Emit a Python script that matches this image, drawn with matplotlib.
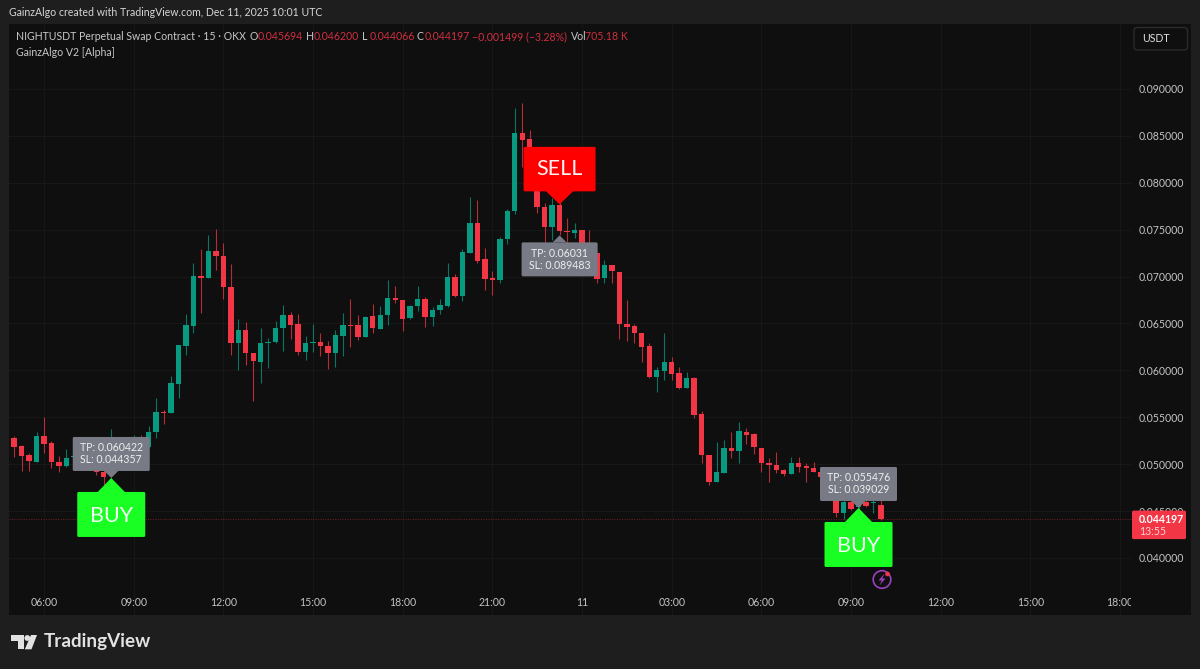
import numpy as np
import matplotlib
matplotlib.use("Agg")
import matplotlib.pyplot as plt
from matplotlib.patches import Polygon, FancyBboxPatch, Rectangle, Circle
from matplotlib.transforms import Affine2D

plt.rcParams['font.family'] = ['Lato', 'DejaVu Sans']

# Candle data in thousandths of USDT, one bar per 15 minutes, index 0 = 06:00
first_bar = -4
opens = [52.83,51.94,50.98,50.27,52.99,52.30,50.24,49.81,50.73,50.38,51.16,50.27,49.20,49.03,51.44,52.15,51.34,52.65,51.87,
         53.43,55.60,55.42,58.59,62.60,64.77,70.03,69.88,72.76,72.19,68.92,62.95,64.34,61.89,60.93,62.88,62.99,64.49,
         65.91,64.95,61.96,62.96,63.06,62.57,61.86,63.70,64.88,64.88,63.60,65.80,64.41,65.91,67.68,67.51,65.55,66.83,
         67.65,65.73,66.40,66.87,69.99,67.93,72.55,75.68,71.84,69.82,69.64,74.04,76.96,85.34,84.63,81.72,77.45,75.25,
         77.63,74.90,74.68,74.97,73.37,72.48,69.81,71.20,70.52,64.94,64.73,63.95,62.60,59.29,59.97,60.89,59.68,58.08,
         59.22,55.35,50.98,48.10,49.10,51.69,51.41,53.47,53.18,51.76,50.16,49.91,49.38,48.95,50.09,49.81,49.63,49.13,
         48.67,47.07,44.83,46.00,45.40,46.00,45.83,45.694]
highs = [52.99,52.05,51.16,53.40,55.07,52.51,50.87,51.59,51.16,51.51,51.87,50.62,49.56,53.72,52.58,52.76,53.11,53.11,54.11,
         57.02,55.78,59.40,62.67,66.01,71.41,72.97,74.43,75.04,73.54,71.34,65.44,65.16,61.89,64.55,63.42,65.30,66.97,
         66.26,66.01,63.67,64.91,64.02,63.17,64.31,66.08,67.61,65.91,65.80,67.08,66.90,69.64,69.00,67.51,66.97,69.00,
         67.79,66.80,67.65,71.48,70.28,72.98,78.45,78.17,73.01,70.63,74.26,77.17,88.01,88.47,85.63,82.25,77.81,78.34,
         77.99,76.21,75.75,74.97,74.97,72.48,71.76,71.20,70.52,67.50,64.94,63.95,62.95,60.39,63.95,61.39,60.39,59.83,
         59.33,55.63,50.98,52.40,52.58,53.47,54.53,53.82,53.29,51.76,50.62,51.33,49.45,50.80,50.73,50.09,50.20,49.38,
         48.85,47.25,46.36,46.36,46.54,46.36,46.36,46.20]
lows = [50.73,49.31,49.31,50.27,51.16,49.56,49.13,49.67,50.27,50.09,49.74,48.85,47.78,48.67,51.16,50.98,51.16,51.34,51.69,
        52.76,54.29,55.42,57.02,61.64,63.95,66.08,69.88,70.70,67.57,61.64,60.04,60.57,56.77,58.62,60.22,62.88,62.11,
        63.31,61.64,61.11,62.00,61.54,60.12,60.40,61.54,62.53,63.24,63.60,63.95,64.41,64.84,67.15,64.24,65.45,66.37,
        64.59,64.73,66.01,66.80,67.79,67.43,72.55,71.41,68.57,68.00,69.35,73.48,76.67,81.72,81.36,76.74,73.55,73.90,
        74.43,73.55,74.08,73.01,72.12,69.28,69.28,69.28,63.31,63.17,62.88,60.93,59.15,57.73,58.97,58.97,57.98,58.08,
        54.89,50.16,47.78,48.10,49.10,50.62,50.16,52.15,51.09,49.20,48.14,49.10,48.74,48.95,49.20,48.14,49.13,48.31,
        46.72,44.33,44.12,45.12,45.26,45.40,44.83,44.066]
closes = [51.87,50.91,50.34,52.99,52.19,50.20,49.81,50.70,50.87,51.16,50.09,49.20,48.67,51.51,52.05,51.34,52.58,51.80,53.47,
          55.53,55.49,58.69,62.67,64.84,70.06,69.85,72.76,72.19,68.92,62.95,64.34,61.89,61.00,62.88,62.99,64.55,65.91,
          64.88,61.96,62.96,63.06,62.57,61.86,63.78,64.84,64.77,63.56,65.73,64.49,65.91,67.68,67.54,65.48,66.87,67.61,
          65.73,66.44,66.94,69.92,67.93,72.59,75.68,71.70,69.74,69.64,74.04,77.00,85.34,84.56,81.72,77.38,75.32,77.63,
          74.86,74.79,74.97,73.37,72.48,69.74,71.23,70.56,64.94,64.66,63.95,62.53,59.26,60.00,60.89,59.61,58.08,59.19,
          55.28,50.98,48.10,49.13,51.69,51.41,53.54,53.11,51.80,50.16,49.88,49.34,48.92,50.09,49.74,49.59,49.13,48.67,
          47.07,44.83,46.00,45.26,46.18,45.54,45.93,44.197]

y_ticks = [0.040, 0.045, 0.050, 0.055, 0.060, 0.065, 0.070, 0.075, 0.080, 0.085, 0.090]
x_ticks = [0, 12, 24, 36, 48, 60, 72, 84, 96, 108, 120, 132, 144]
x_labels = ["06:00", "09:00", "12:00", "15:00", "18:00", "21:00", "11", "03:00", "06:00", "09:00", "12:00", "15:00", "18:00"]
last_price = 0.044197

BUY_BARS = [(9, 0.04853, "0.060422", "0.044357"), (109, 0.04533, "0.055476", "0.039029")]
SELL_BAR = (69, 0.07770, "0.06031", "0.089483")

UP, DOWN = "#089981", "#f23645"
FS = 7.6
W, H = 1200, 669
fig = plt.figure(figsize=(W / 100, H / 100), dpi=100, facecolor="#1e1e1e")
PX = Affine2D().scale(1, -1).translate(0, H)

L, R, T, B = 9, 1131, 24, 615
fig.add_artist(Rectangle((L, T), 1191 - L, B - T, transform=PX, fc="#0f0f0f", ec="none", zorder=-5))
ax = fig.add_axes([L / W, 1 - B / H, (R - L) / W, (B - T) / H])
ax.patch.set_alpha(0)
for s in ax.spines.values():
    s.set_visible(False)

x0, dx = 44.0, 89.67 / 12
ax.set_xlim((L - x0) / dx, (R - x0) / dx)
ax.set_ylim(0.03392, 0.09693)
ax.set_axisbelow(True)
ax.grid(True, color="#171717", lw=0.75)

o, h, l, c = [np.array(a) * 1e-3 for a in (opens, highs, lows, closes)]
idx = np.arange(len(o)) + first_bar
cols = [UP if cc >= oo else DOWN for oo, cc in zip(o, c)]
ax.vlines(idx, l, h, colors=cols, lw=0.8, alpha=0.75, zorder=2)
ax.bar(idx, np.maximum(np.abs(c - o), 2.5e-5), bottom=np.minimum(o, c), width=0.72, color=cols, lw=0, zorder=3)
ax.axhline(last_price, color=DOWN, lw=0.7, ls=(0, (1, 1.5)), alpha=0.45, zorder=1)

ax.set_xticks(x_ticks, x_labels)
ax.set_yticks(y_ticks, [f"{v:.6f}" for v in y_ticks])
ax.tick_params(axis="x", length=0, pad=-12.6, labelsize=FS, colors="#c3c3c3")
ax.tick_params(axis="y", length=0, pad=5.6, labelsize=FS, colors="#c3c3c3", labelleft=False, labelright=True, left=False)
for lab in ax.get_xticklabels():
    lab.set_clip_on(True)
    lab.set_clip_box(ax.bbox)


def pix(bar, price):
    xx, yy = ax.transData.transform((bar, price))
    return xx, H - yy


def add(p, z=6):
    p.set_transform(PX)
    p.set_clip_on(False)
    p.set_zorder(z)
    fig.add_artist(p)


def txt(x, y, s, **kw):
    kw.setdefault("color", "#c8c8c8")
    kw.setdefault("fontsize", FS)
    kw.setdefault("va", "center")
    kw.setdefault("ha", "left")
    kw.setdefault("zorder", 8)
    fig.text(x / W, 1 - y / H, s, **kw)


def rbox(x0_, y0_, x1_, y1_, color, r=1.5, ec="none", z=6):
    add(FancyBboxPatch((x0_ + r, y0_ + r), x1_ - x0_ - 2 * r, y1_ - y0_ - 2 * r,
                       boxstyle=f"round,pad={r},rounding_size={r}", fc=color, ec=ec, lw=1), z)


def tooltip(tx, ty0, ty1, tw, tipy, up, tp, sl):
    col = "#787b86"
    rbox(tx - tw / 2, ty0, tx + tw / 2, ty1, col)
    base = ty0 if up else ty1
    add(Polygon([(tx - 7, base), (tx + 7, base), (tx, tipy)], fc=col, ec="none"))
    m = (ty0 + ty1) / 2
    txt(tx, m - 6, f"TP: {tp}", color="#eeeeee", ha="center", zorder=9)
    txt(tx, m + 6, f"SL: {sl}", color="#eeeeee", ha="center", zorder=9)


# BUY signals
for bar, price, tp, sl in BUY_BARS:
    px_, py_ = pix(bar, price)
    rbox(px_ - 34, py_ + 14, px_ + 34, py_ + 59, "#19ff23")
    add(Polygon([(px_ - 14, py_ + 14.5), (px_, py_), (px_ + 14, py_ + 14.5)], fc="#19ff23", ec="none"))
    txt(px_, py_ + 38, "BUY", color="#f4fff4", fontsize=15.5, ha="center", zorder=9)
    tooltip(px_, py_ - 41, py_ - 7, 77, py_, False, tp, sl)

# SELL signal
bar, price, tp, sl = SELL_BAR
px_, py_ = pix(bar, price)
rbox(px_ - 36, py_ - 57.5, px_ + 36, py_ - 13, "#ff0000")
add(Polygon([(px_ - 14, py_ - 13.5), (px_, py_), (px_ + 14, py_ - 13.5)], fc="#ff0000", ec="none"))
txt(px_, py_ - 35, "SELL", color="#fff2f2", fontsize=15.5, ha="center", zorder=9)
tooltip(px_, py_ + 38, py_ + 72, 76, py_ + 31, True, tp, sl)

# Header and legend
txt(9, 13, "GainzAlgo created with TradingView.com, Dec 11, 2025 10:01 UTC", color="#d6d6d6")
txt(16, 37, "NIGHTUSDT Perpetual Swap Contract · 15 · OKX")
txt(16, 53, "GainzAlgo V2 [Alpha]")
RED = "#cf2f40"
for xx, lab_, val in [(250, "O", "0.045694"), (306, "H", "0.046200"), (362, "L", "0.044066"), (417, "C", "0.044197")]:
    txt(xx, 37, lab_)
    txt(xx + 7.5, 37, val, color=RED)
txt(472, 37, "−0.001499 (−3.28%)", color=RED)
txt(571, 37, "Vol", color="#c8c8c8")
txt(585, 37, "705.18 K", color=RED)

# USDT button
rbox(1134, 27.5, 1187.5, 50, "#0f0f0f", r=3, ec="#2b2b2b")
txt(1142, 39, "USDT", color="#e0e0e0")

# Last price tag
tag_y = pix(0, last_price)[1]
rbox(1132, tag_y - 8, 1186, tag_y + 20.5, DOWN, r=1.5)
txt(1139, tag_y + 0.5, f"{last_price:.6f}", color="#ffffff", fontweight="bold", zorder=9)
txt(1139, tag_y + 13, "13:55", color="#ffd0d4", zorder=9)

# Bolt icon
add(Circle((882, 579.5), 8.8, fc="none", ec="#9c3fc0", lw=1.2))
add(Polygon([(884.5, 573.5), (878.5, 580.5), (881.7, 580.5), (879.5, 585.5), (885.5, 578.5), (882.3, 578.5)],
            fc="#9c3fc0", ec="none"))
add(Circle((887.5, 574), 2.3, fc="#f23645", ec="none"), 7)

# TradingView logo
LOGO = "#e2e2e2"
add(Polygon([(10.7, 635), (24, 635), (24, 649.3), (17.5, 649.3), (17.5, 641.3), (10.7, 641.3)], fc=LOGO, ec="none"))
add(Circle((27.3, 638), 2.9, fc=LOGO, ec="none"))
add(Polygon([(31, 635), (37, 635), (31.5, 649.3), (24.8, 649.3)], fc=LOGO, ec="none"))
txt(43.5, 642, "TradingView", color=LOGO, fontsize=13.6, fontweight="bold")

fig.savefig("out.png", dpi=100, facecolor=fig.get_facecolor())
